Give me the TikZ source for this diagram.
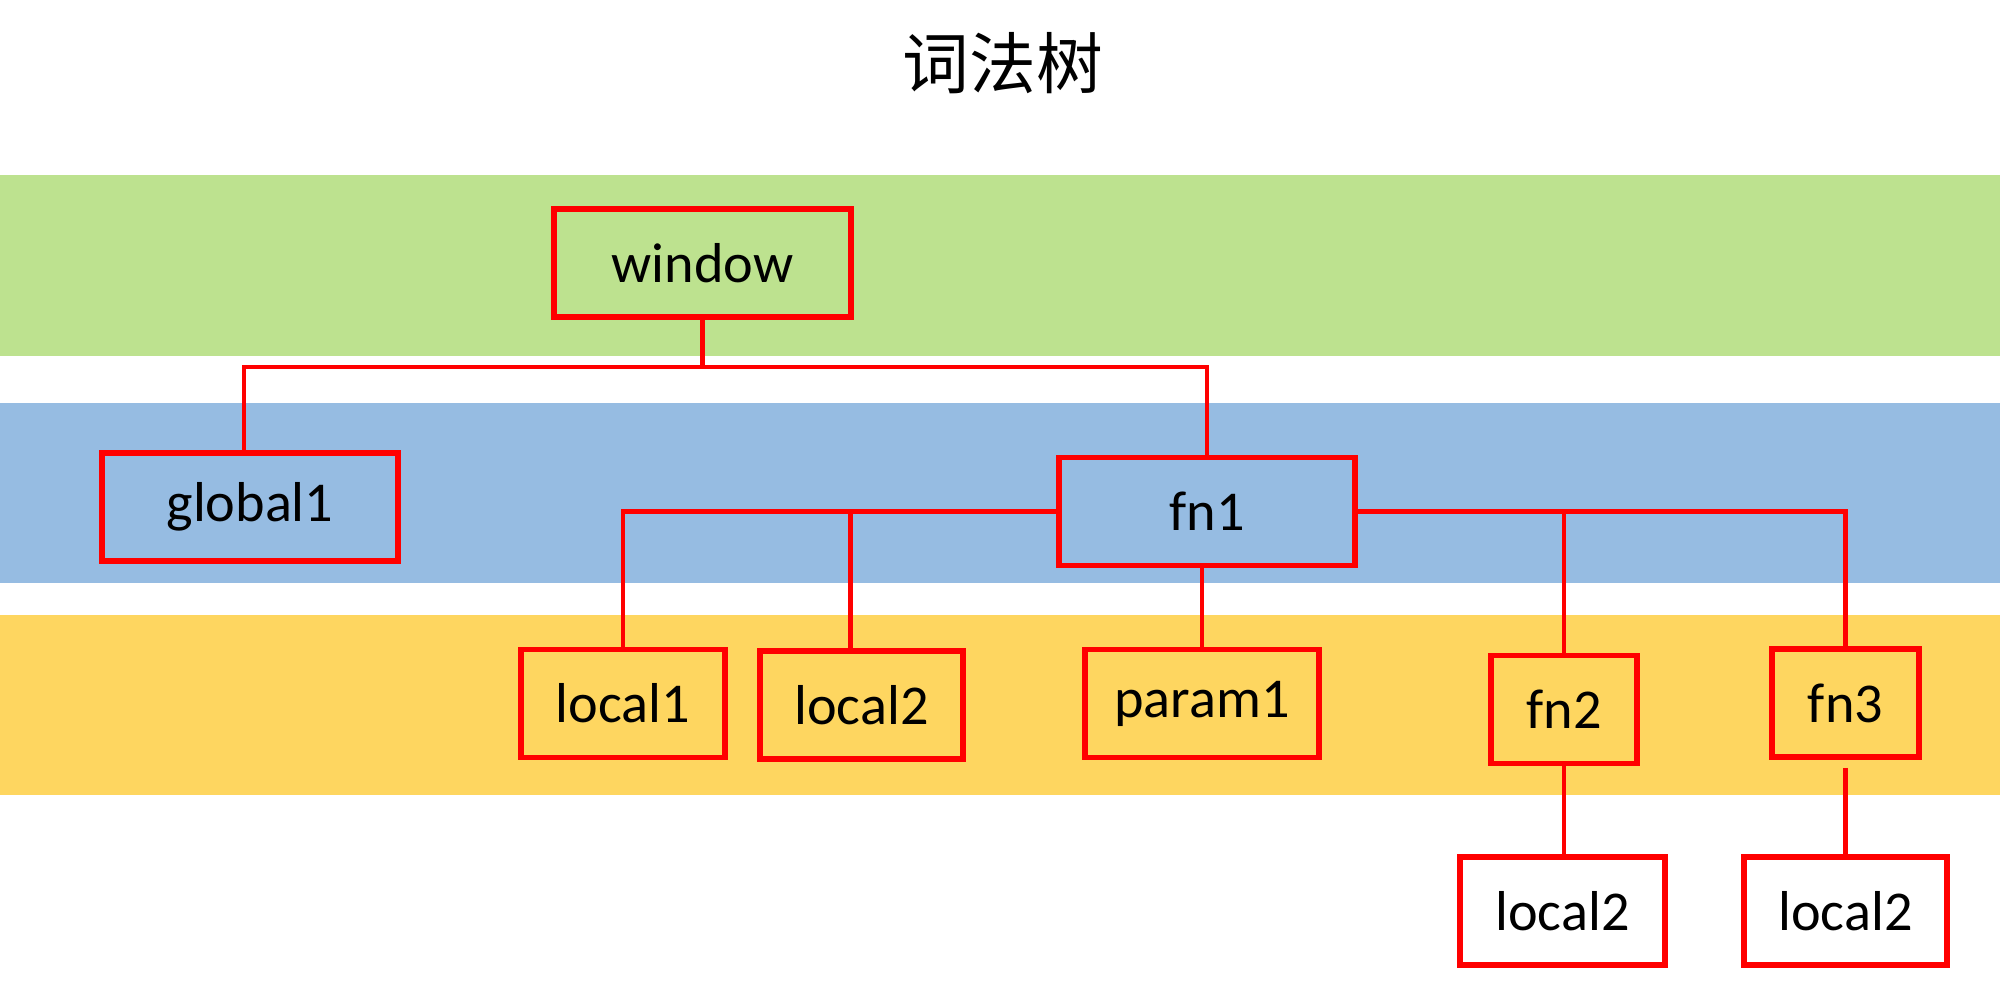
\documentclass[tikz,border=0pt]{standalone}
\usepackage{fontspec}
\setmainfont{Carlito}
\newfontfamily\cjk{Noto Sans CJK SC}
\usepackage{tikz}
\usetikzlibrary{positioning}

\definecolor{bandgreen}{RGB}{189,226,143}
\definecolor{bandblue}{RGB}{150,188,226}
\definecolor{bandyellow}{RGB}{254,214,96}
\definecolor{boxred}{RGB}{255,0,0}

\tikzset{
  scopebox/.style={draw=boxred, line width=1.6pt, font=\fontsize{16}{19}\selectfont,
    inner sep=0pt, minimum height=10.8mm},
  link/.style={boxred, line width=1.4pt}
}

\begin{document}
\begin{tikzpicture}[x=0.1mm, y=-0.1mm]
        \useasboundingbox (0,0) rectangle (2000,982);

        % bands
        \fill[bandgreen] (0,175) rectangle (2000,356);
        \fill[bandblue] (0,403) rectangle (2000,583);
        \fill[bandyellow] (0,615) rectangle (2000,795);

        \node (title) at (1003,63) {\cjk\fontsize{19}{22}\selectfont 词法树};

        \node[scopebox, minimum width=29.7mm] (window) at (702.5,263) {window};

        \node[scopebox, minimum width=29.6mm] (global1) at (250,507) {global1};
        \node[scopebox, minimum width=29.6mm] (fn1) at (1207,511.5) {fn1};

        \node[scopebox, minimum width=20.4mm] (local1) at (623,703.5) {local1};
        \node[scopebox, minimum width=20.3mm] (local2) at (861.5,705) {local2};
        \node[scopebox, minimum width=23.4mm] (param1) at (1202,703.5) {param1};
        \node[scopebox, minimum width=14.6mm] (fn2) at (1564,709.5) {fn2};
        \node[scopebox, minimum width=14.7mm] (fn3) at (1845.5,703) {fn3};

        \node[scopebox, minimum width=20.5mm] (fn2local2) at (1562.5,911) {local2};
        \node[scopebox, minimum width=20.3mm] (fn3local2) at (1845.5,911) {local2};

        % tree lines
        \coordinate (split) at (702.5,367);
        \draw[link] (window.south) -- (split);
        \draw[link] ([xshift=-0.6mm]global1.north) |- (split) -| (fn1.north);

        \draw[link] (fn1.west) -| (local1.north);
        \draw[link] (fn1.west -| local2.north) ++(-11,0) -- ([xshift=-1.1mm]local2.north);
        \draw[link] (fn1.south -| param1.north) -- (param1.north);
        \draw[link] (fn1.east) -| (fn3.north);
        \draw[link] (fn1.east -| fn2.north) -- (fn2.north);

        \draw[link] (fn2.south) -- (fn2local2.north -| fn2.south);
        \draw[link, shorten <=0.8mm] (fn3.south) -- (fn3local2.north);

\end{tikzpicture}
\end{document}
